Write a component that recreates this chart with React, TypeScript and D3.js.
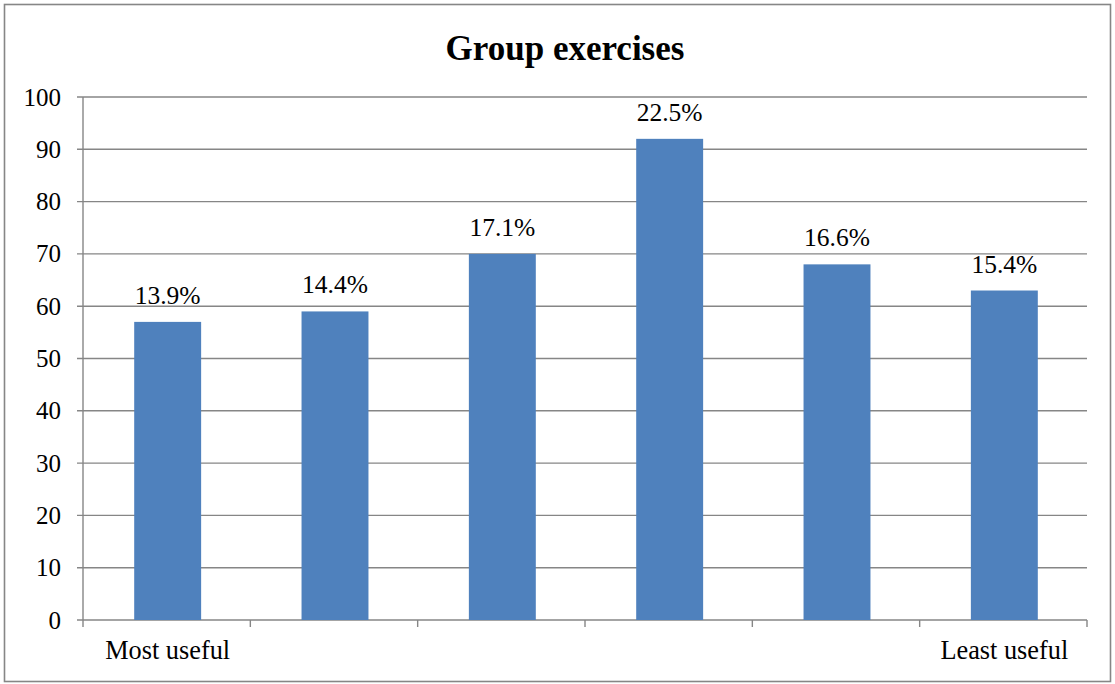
import React from "react";
import * as d3 from "d3";

// Responses per rank, from most useful to least useful
const ranks = ["1", "2", "3", "4", "5", "6"];
const counts = [57, 59, 70, 92, 68, 63];
const rankLabels = ["Most useful", "", "", "", "", "Least useful"];
const yTicks = [0, 10, 20, 30, 40, 50, 60, 70, 80, 90, 100];

const W = 1115;
const H = 684;
const plot = { left: 83, right: 1087, top: 97, bottom: 620 };
const font = "Liberation Serif, DejaVu Serif, serif";
const gridColor = "#868686";
const barColor = "#4F81BD";

export default function App() {
  const total = d3.sum(counts);
  const x = d3
    .scaleBand<string>()
    .domain(ranks)
    .range([plot.left, plot.right])
    .paddingInner(0)
    .paddingOuter(0);
  const y = d3.scaleLinear().domain([0, 100]).range([plot.bottom, plot.top]);
  const bw = x.bandwidth();
  const barW = bw * 0.4;
  const fmt = (v: number) => `${((v / total) * 100).toFixed(1)}%`;
  const ts = { fontFamily: font };

  return (
    <svg
      width={W}
      height={H}
      style={{ position: "absolute", left: 0, top: 0 }}
    >
      <rect x={0} y={0} width={W} height={H} fill="#fff" />
      <rect
        x={4.5}
        y={4.5}
        width={W - 9}
        height={H - 7}
        fill="none"
        stroke={gridColor}
        strokeWidth={1.6}
      />
      <text
        x={565}
        y={60}
        textAnchor="middle"
        fontSize={35}
        fontWeight="bold"
        style={ts}
      >
        Group exercises
      </text>

      {yTicks.map((t) => (
        <g key={t}>
          <line
            x1={plot.left - 6}
            x2={plot.right}
            y1={y(t)}
            y2={y(t)}
            stroke={gridColor}
            strokeWidth={1.4}
          />
          <text
            x={61}
            y={y(t) + 8.5}
            textAnchor="end"
            fontSize={25}
            style={ts}
          >
            {t}
          </text>
        </g>
      ))}

      <line
        x1={plot.left}
        x2={plot.left}
        y1={plot.top}
        y2={plot.bottom + 7}
        stroke={gridColor}
        strokeWidth={1.4}
      />
      {ranks.map((r) => (
        <line
          key={`tick-${r}`}
          x1={(x(r) as number) + bw}
          x2={(x(r) as number) + bw}
          y1={plot.bottom}
          y2={plot.bottom + 7}
          stroke={gridColor}
          strokeWidth={1.4}
        />
      ))}

      {ranks.map((r, i) => {
        const cx = (x(r) as number) + bw / 2 + 1;
        return (
          <g key={`bar-${r}`}>
            <rect
              x={cx - barW / 2}
              y={y(counts[i])}
              width={barW}
              height={y(0) - y(counts[i])}
              fill={barColor}
            />
            <text
              x={cx}
              y={y(counts[i]) - 18}
              textAnchor="middle"
              fontSize={25.5}
              style={ts}
            >
              {fmt(counts[i])}
            </text>
            {rankLabels[i] && (
              <text x={cx} y={659} textAnchor="middle" fontSize={26.3} style={ts}>
                {rankLabels[i]}
              </text>
            )}
          </g>
        );
      })}
    </svg>
  );
}
